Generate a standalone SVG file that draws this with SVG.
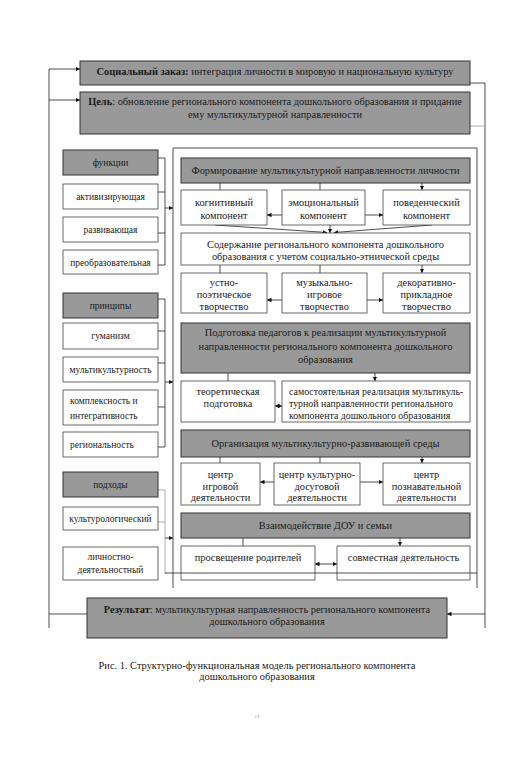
<svg xmlns="http://www.w3.org/2000/svg" width="515" height="772" viewBox="0 0 515 772">
<style>
.g{fill:#999;stroke:#333;stroke-width:1}
.w{fill:#fff;stroke:#444;stroke-width:0.8}
text{font-family:"Liberation Serif","Times New Roman",serif;font-size:10.4px;fill:#1a1a1a}
.c{text-anchor:middle}
.s{font-size:9.5px}
.m{font-size:9.9px}
.ln{stroke:#222;stroke-width:0.8;fill:none}
.lg{stroke:#9a9a9a;stroke-width:0.8;fill:none}
.ar{stroke:#222;stroke-width:0.8;fill:none;marker-end:url(#a)}
.da{stroke:#222;stroke-width:0.8;fill:none;marker-start:url(#a);marker-end:url(#a)}
</style>
<defs>
<marker id="a" viewBox="0 0 6 6" refX="6" refY="3" markerWidth="4.5" markerHeight="4.5" orient="auto-start-reverse" markerUnits="userSpaceOnUse"><path d="M0,0L6,3L0,6z" fill="#111"/></marker>
</defs>
<rect width="515" height="772" fill="#fff"/>

<g id="connectors">
<path class="ln" d="M49,69V628"/>
<path class="ar" d="M49,69H80"/>
<path class="ar" d="M49,100H80"/>
<path class="ln" d="M49,614H87"/>
<path class="ln" d="M470,83H485V628"/>
<path class="lg" d="M470,126H485"/>
<path class="ar" d="M485,614H447"/>
<path class="ln" d="M173,148V588M477,148V588M173,148H477"/>
<path class="ln" d="M158,158H165M158,192H165M158,233H165M158,265H165M165,158V265"/>
<path class="ar" d="M165,208H173"/>
<path class="ln" d="M158,299H165M158,331H165M158,363H165M158,407H165M158,447H165M165,299V447"/>
<path class="ar" d="M165,382H173"/>
<path class="lg" d="M158,490H165M158,522H165M165,490V574"/>
<path class="ar" d="M165,538H173"/>
<path class="ar" d="M220,183V190M320,183V190M422,183V190"/>
<path class="da" d="M267,215H282M365,215H383"/>
<path class="ar" d="M215,225L327,232.5"/>
<path class="ar" d="M432,225L334,232.5"/>
<path class="ar" d="M330,225V233"/>
<path class="ar" d="M220,265V273M320,265V273M422,265V273"/>
<path class="da" d="M267,300H282M367,300H383"/>
<path class="ar" d="M228,373V381M375,373V381"/>
<path class="da" d="M275,406H282"/>
<path class="ar" d="M220,457V463M320,457V463M422,457V463"/>
<path class="da" d="M260,482H274M360,482H383"/>
<path class="ar" d="M243,538V546M400,538V546"/>
<path class="da" d="M315,564H337"/>
</g>

<g id="social"><rect class="g" x="80" y="61" width="390" height="24"/>
<text class="c" x="275" y="75"><tspan font-weight="bold">Социальный заказ:</tspan> интеграция личности в мировую и национальную культуру</text></g>
<g id="goal"><rect class="g" x="80" y="92" width="390" height="42"/>
<text class="c" x="275" y="105"><tspan font-weight="bold">Цель</tspan>: обновление регионального компонента дошкольного образования и придание</text>
<text class="c" x="275" y="118">ему мультикультурной направленности</text></g>

<g id="functions"><rect class="g" x="63" y="150" width="95" height="25"/><text class="c s" x="110.5" y="166">функции</text></g>
<g id="f1"><rect class="w" x="63" y="184" width="95" height="25"/><text class="c s" x="110.5" y="200">активизирующая</text></g>
<g id="f2"><rect class="w" x="63" y="217" width="95" height="25"/><text class="c s" x="110.5" y="233">развивающая</text></g>
<g id="f3"><rect class="w" x="63" y="250" width="95" height="24"/><text class="c s" x="110.5" y="266">преобразовательная</text></g>
<g id="principles"><rect class="g" x="63" y="293" width="95" height="25"/><text class="c s" x="110.5" y="309">принципы</text></g>
<g id="p1"><rect class="w" x="63" y="323" width="95" height="26"/><text class="c s" x="110.5" y="339">гуманизм</text></g>
<g id="p2"><rect class="w" x="63" y="357" width="95" height="25"/><text class="c s" x="110.5" y="373">мультикультурность</text></g>
<g id="p3"><rect class="w" x="63" y="390" width="95" height="35"/><text class="s" x="70" y="404">комплексность и</text><text class="s" x="70" y="419">интегративность</text></g>
<g id="p4"><rect class="w" x="63" y="432" width="95" height="25"/><text class="s" x="70" y="448">региональность</text></g>
<g id="approaches"><rect class="g" x="63" y="472" width="95" height="25"/><text class="c s" x="110.5" y="488">подходы</text></g>
<g id="a1"><rect class="w" x="63" y="507" width="95" height="23"/><text class="c s" x="110.5" y="522">культурологический</text></g>
<g id="a2"><rect class="w" x="63" y="547" width="95" height="33"/><text class="c s" x="110.5" y="560">личностно-</text><text class="c s" x="110.5" y="573">деятельностный</text></g>

<g id="formation"><rect class="g" x="181" y="158" width="289" height="25"/><text class="c" x="325.5" y="174">Формирование мультикультурной направленности личности</text></g>
<g id="cog"><rect class="w" x="181" y="190" width="86" height="35"/><text class="c" x="224" y="206">когнитивный</text><text class="c" x="224" y="219">компонент</text></g>
<g id="emo"><rect class="w" x="282" y="190" width="83" height="35"/><text class="c" x="323.5" y="206">эмоциональный</text><text class="c" x="323.5" y="219">компонент</text></g>
<g id="beh"><rect class="w" x="383" y="190" width="87" height="35"/><text class="c" x="426.5" y="206">поведенческий</text><text class="c" x="426.5" y="219">компонент</text></g>

<g id="content"><rect class="w" x="181" y="233" width="289" height="32"/><text class="c" x="325.5" y="248">Содержание регионального компонента дошкольного</text><text class="c" x="325.5" y="260">образования с учетом социально-этнической среды</text></g>
<g id="oral"><rect class="w" x="181" y="273" width="86" height="40"/><text class="c" x="224" y="286">устно-</text><text class="c" x="224" y="298">поэтическое</text><text class="c" x="224" y="310">творчество</text></g>
<g id="music"><rect class="w" x="282" y="273" width="85" height="40"/><text class="c" x="324.5" y="286">музыкально-</text><text class="c" x="324.5" y="298">игровое</text><text class="c" x="324.5" y="310">творчество</text></g>
<g id="deco"><rect class="w" x="383" y="273" width="87" height="40"/><text class="c" x="426.5" y="286">декоративно-</text><text class="c" x="426.5" y="298">прикладное</text><text class="c" x="426.5" y="310">творчество</text></g>

<g id="training"><rect class="g" x="181" y="323" width="289" height="50"/><text class="c" x="325.5" y="336">Подготовка педагогов к реализации мультикультурной</text><text class="c" x="325.5" y="350">направленности регионального компонента дошкольного</text><text class="c" x="325.5" y="363">образования</text></g>
<g id="theory"><rect class="w" x="181" y="381" width="94" height="41"/><text class="c" x="228" y="395">теоретическая</text><text class="c" x="228" y="407">подготовка</text></g>
<g id="self"><rect class="w" x="282" y="381" width="188" height="41"/><text class="m" x="289" y="395">самостоятельная реализация мультикуль-</text><text class="m" x="289" y="407">турной направленности регионального</text><text class="m" x="289" y="419">компонента дошкольного образования</text></g>

<g id="environment"><rect class="g" x="181" y="430" width="289" height="27"/><text class="c" x="325.5" y="447">Организация мультикультурно-развивающей среды</text></g>
<g id="game"><rect class="w" x="181" y="463" width="79" height="42"/><text class="c" x="220.5" y="478">центр</text><text class="c" x="220.5" y="490">игровой</text><text class="c" x="220.5" y="501">деятельности</text></g>
<g id="leisure"><rect class="w" x="274" y="463" width="86" height="42"/><text class="c" x="317" y="478">центр культурно-</text><text class="c" x="317" y="490">досуговой</text><text class="c" x="317" y="501">деятельности</text></g>
<g id="cogn"><rect class="w" x="383" y="463" width="87" height="42"/><text class="c" x="426.5" y="478">центр</text><text class="c" x="426.5" y="490">познавательной</text><text class="c" x="426.5" y="501">деятельности</text></g>

<g id="family"><rect class="g" x="181" y="513" width="289" height="25"/><text class="c" x="325.5" y="529">Взаимодействие ДОУ и семьи</text></g>
<g id="parents"><rect class="w" x="181" y="546" width="134" height="34"/><text class="c" x="248" y="561">просвещение родителей</text></g>
<g id="joint"><rect class="w" x="337" y="546" width="133" height="34"/><text class="c" x="403.5" y="561">совместная деятельность</text></g>
<path class="ln" d="M165,573H477"/>

<g id="result"><rect class="g" x="87" y="598" width="360" height="40"/><text class="c" x="267" y="613"><tspan font-weight="bold">Результат</tspan>: мультикультурная направленность регионального компонента</text><text class="c" x="267" y="625">дошкольного образования</text></g>

<g id="caption"><text class="c" x="257" y="669">Рис. 1. Структурно-функциональная модель регионального компонента</text><text class="c" x="257" y="680">дошкольного образования</text>
<text class="c" x="257" y="718" style="font-size:5px;fill:#8890a8">11</text></g>
</svg>
